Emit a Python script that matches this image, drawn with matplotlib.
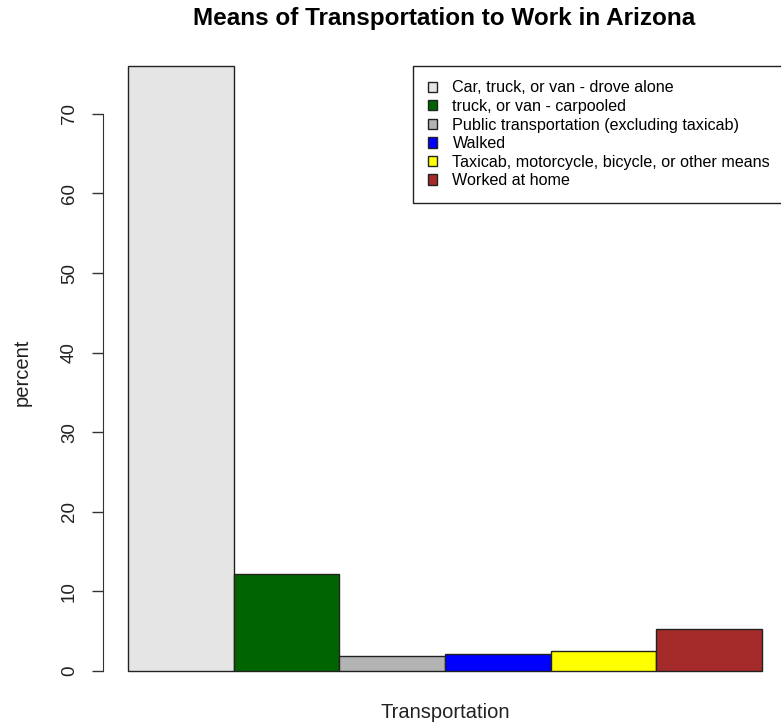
import matplotlib
matplotlib.use("Agg")
import matplotlib.pyplot as plt
from matplotlib.patches import Patch

plt.rcParams["font.family"] = ["Liberation Sans", "DejaVu Sans"]

#
# Data
#

modes = [
    "Car, truck, or van - drove alone",
    "truck, or van - carpooled",
    "Public transportation (excluding taxicab)",
    "Walked",
    "Taxicab, motorcycle, bicycle, or other means",
    "Worked at home",
]
percents = [76.0, 12.2, 1.9, 2.1, 2.5, 5.3]
bar_colors = ["#e5e5e5", "#006400", "#b3b3b3", "#0000ff", "#ffff00", "#a52a2a"]
y_ticks = [0, 10, 20, 30, 40, 50, 60, 70]

#
# Chart
#

W, H = 781, 725
fig = plt.figure(figsize=(W / 100, H / 100), dpi=100)

# plot region in pixels (R style barplot, right side runs off the image)
left, right, top, bottom = 103, 787, 42, 695
ax = fig.add_axes([left / W, 1 - bottom / H, (right - left) / W, (bottom - top) / H])

x = list(range(len(percents)))
ax.bar(x, percents, width=1, align="edge", color=bar_colors,
       edgecolor="#222222", linewidth=1)

n = len(percents)
ax.set_xlim(-0.04 * n, n + 0.04 * n)
ymax = max(percents)
ax.set_ylim(-0.04 * ymax, ymax * 1.04)

for s in ["top", "right", "bottom"]:
    ax.spines[s].set_visible(False)
ax.spines["left"].set_bounds(0, 70)
ax.spines["left"].set_color("#333333")
ax.set_xticks([])
ax.set_yticks(y_ticks)
ax.set_yticklabels([str(t) for t in y_ticks], rotation=90, va="center")
ax.tick_params(axis="y", direction="out", length=8, width=1, color="#333333",
               labelsize=13.5, pad=10, labelcolor="#222222")

fig.text(22 / W, 1 - 372 / H, "percent", rotation=90, ha="center", va="center",
         fontsize=14.5, color="#222222")
fig.text(445 / W, 1 - 713 / H, "Transportation", ha="center", va="center",
         fontsize=14.5, color="#222222")
fig.text(444 / W, 1 - 18 / H, "Means of Transportation to Work in Arizona",
         ha="center", va="center", fontsize=17.5, fontweight="bold")

handles = [Patch(facecolor=c, edgecolor="#222222", linewidth=1) for c in bar_colors]
leg = fig.legend(handles, modes, loc="upper left",
                 bbox_to_anchor=(413 / W, 1 - 66 / H), borderaxespad=0,
                 fancybox=False, edgecolor="#222222", fontsize=11.6,
                 handlelength=0.6, handleheight=0.6, handletextpad=0.95,
                 labelspacing=0.22, borderpad=0.9, framealpha=1)
leg.get_frame().set_linewidth(1)

fig.savefig("out.png", dpi=100)
